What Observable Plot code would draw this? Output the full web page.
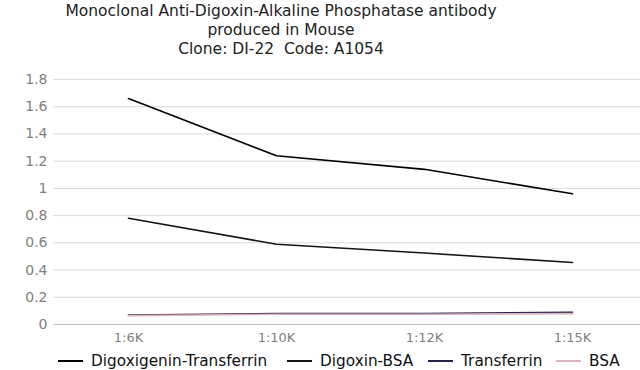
<!DOCTYPE html>
<html>
<head>
<meta charset="utf-8">
<script src="https://cdn.jsdelivr.net/npm/d3@7"></script>
<script src="https://cdn.jsdelivr.net/npm/@observablehq/plot@0.6"></script>
<style>
  html, body { margin: 0; padding: 0; background: #fff; }
  #wrap { position: relative; width: 640px; height: 370px; overflow: hidden; font-family: "DejaVu Sans", sans-serif; }
  #title { position: absolute; left: 0; top: 2px; width: 562px; text-align: center; font-size: 15.5px; line-height: 19px; color: #222; }
  #ylab { position: absolute; left: 12px; top: 186px; transform: translate(-50%, -50%) rotate(-90deg); font-size: 16px; color: #111; white-space: nowrap; }
  #chart { position: absolute; left: 0; top: 66px; }
  #legend { position: absolute; left: 0; top: 352px; width: 640px; height: 20px; font-size: 15.3px; color: #111; }
  .item { position: absolute; top: 0; display: flex; align-items: center; white-space: nowrap; }
  .sw { display: inline-block; width: 25px; height: 0; border-top: 2px solid; margin-right: 8px; }
</style>
</head>
<body>
<div id="wrap">
  <div id="title">Monoclonal Anti-Digoxin-Alkaline Phosphatase antibody<br>produced in Mouse<br>Clone: DI-22&nbsp; Code: A1054</div>
  <div id="ylab">OD, 405 nm</div>
  <div id="chart"></div>
  <div id="legend"></div>
</div>
<script>
const dilutions = ["1:6K", "1:10K", "1:12K", "1:15K"];
const seriesNames = ["Digoxigenin-Transferrin", "Digoxin-BSA", "Transferrin", "BSA"];
const seriesColors = ["#000000", "#141414", "#25254a", "#dbb3ba"];
const digoxigeninTransferrin = [1.66, 1.24, 1.14, 0.96];
const digoxinBSA = [0.78, 0.59, 0.525, 0.455];
const transferrin = [0.07, 0.08, 0.08, 0.09];
const bsa = [0.065, 0.075, 0.075, 0.08];
const yTicks = [0, 0.2, 0.4, 0.6, 0.8, 1, 1.2, 1.4, 1.6, 1.8];

const allSeries = [digoxigeninTransferrin, digoxinBSA, transferrin, bsa];
const rows = [];
allSeries.forEach((vals, si) => vals.forEach((v, i) => rows.push({series: seriesNames[si], dilution: dilutions[i], od: v})));

const plot = Plot.plot({
  width: 640,
  height: 280,
  marginLeft: 53,
  marginRight: 0,
  marginTop: 13,
  marginBottom: 22,
  style: {fontFamily: "'DejaVu Sans', sans-serif", fontSize: "13px", background: "#fff"},
  x: {type: "point", domain: dilutions, range: [127, 573], padding: 0, label: null},
  y: {domain: [0, 1.8], label: null},
  color: {domain: seriesNames, range: seriesColors},
  marks: [
    Plot.ruleY(yTicks.filter(d => d > 0), {stroke: "#d9d9d9", strokeWidth: 1}),
    Plot.ruleY([0], {stroke: "#bfbfbf", strokeWidth: 1}),
    Plot.axisY({ticks: yTicks, tickSize: 0, tickPadding: 6, tickFormat: d => String(+d.toFixed(1)), fill: "#7f7f7f", fontSize: 14, label: null}),
    Plot.axisX({tickSize: 0, tickPadding: 8, fill: "#7f7f7f", fontSize: 13, label: null}),
    Plot.line(rows, {x: "dilution", y: "od", z: "series", stroke: "series", strokeWidth: 1.6, sort: null})
  ]
});
document.getElementById("chart").appendChild(plot);

const legendPos = [58, 287, 428, 556];
const legend = document.getElementById("legend");
seriesNames.forEach((name, i) => {
  const item = document.createElement("div");
  item.className = "item";
  item.style.left = legendPos[i] + "px";
  const sw = document.createElement("span");
  sw.className = "sw";
  sw.style.borderTopColor = seriesColors[i];
  item.appendChild(sw);
  item.appendChild(document.createTextNode(name));
  legend.appendChild(item);
});
</script>
</body>
</html>
